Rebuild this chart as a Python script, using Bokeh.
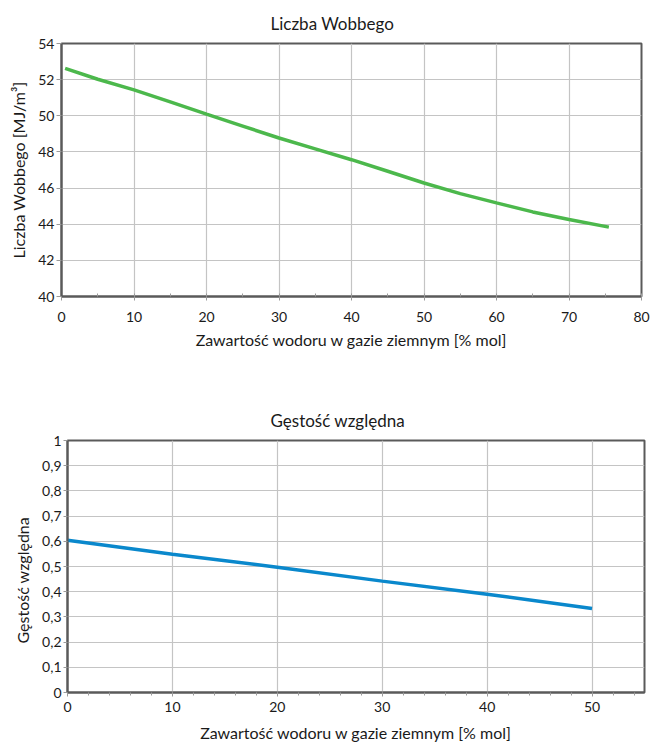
from bokeh.plotting import figure
from bokeh.models import FixedTicker, Range1d, Title
from bokeh.embed import file_html
from bokeh.resources import INLINE

FONT = "Lato"

# ---- data: Wobbe index vs hydrogen content ----
wobbe_h2 = [0.5, 5, 10, 15, 20, 25, 30, 35, 40, 45, 50, 55, 60, 65, 70, 75.5]
wobbe_val = [52.62, 52.02, 51.43, 50.77, 50.09, 49.43, 48.77, 48.17, 47.57,
             46.93, 46.28, 45.69, 45.18, 44.68, 44.26, 43.84]
wobbe_xticks = [0, 10, 20, 30, 40, 50, 60, 70, 80]
wobbe_yticks = [40, 42, 44, 46, 48, 50, 52, 54]

# ---- data: relative density vs hydrogen content ----
dens_h2 = [0, 10, 20, 30, 40, 50]
dens_val = [0.604, 0.549, 0.497, 0.442, 0.390, 0.333]
dens_xticks = [0, 10, 20, 30, 40, 50]
dens_yticks = [0, 0.1, 0.2, 0.3, 0.4, 0.5, 0.6, 0.7, 0.8, 0.9, 1]
dens_ylabels = ["0", "0,1", "0,2", "0,3", "0,4", "0,5", "0,6", "0,7", "0,8", "0,9", "1"]

title1 = "Liczba Wobbego"
ylabel1 = "Liczba Wobbego [MJ/m³]"
title2 = "Gęstość względna"
ylabel2 = "Gęstość względna"
xlabel = "Zawartość wodoru w gazie ziemnym [% mol]"

AXIS = "#5a5a5a"
GRID = "#c4c4c4"
TXT = "#1a1a1a"


def style(p):
    p.outline_line_color = AXIS
    p.outline_line_width = 2
    p.background_fill_color = "white"
    p.border_fill_color = "white"
    for g in (p.xgrid, p.ygrid):
        g.grid_line_color = GRID
        g.grid_line_width = 1.2
    for ax in (p.xaxis, p.yaxis):
        ax.axis_line_color = AXIS
        ax.axis_line_width = 2
        ax.major_tick_line_color = "#9a9a9a"
        ax.minor_tick_line_color = "#9a9a9a"
        ax.major_label_text_font = FONT
        ax.major_label_text_font_size = "14px"
        ax.major_label_text_color = TXT
        ax.axis_label_text_font = FONT
        ax.axis_label_text_font_size = "16px"
        ax.axis_label_text_font_style = "normal"
        ax.axis_label_text_color = TXT


def set_title(p, text, offset, standoff):
    p.title.text = text
    p.title.align = "left"
    p.title.offset = offset
    p.title.standoff = standoff
    p.title.text_font = FONT
    p.title.text_font_size = "17px"
    p.title.text_font_style = "normal"
    p.title.text_color = TXT


# ---------------- top chart ----------------
p1 = figure(width=650, height=398,
            x_range=Range1d(0, 80), y_range=Range1d(40, 54),
            output_backend="svg", toolbar_location=None,
            min_border_left=61, min_border_right=9,
            min_border_top=42, min_border_bottom=102)
style(p1)
set_title(p1, title1, 209, 20)
p1.xaxis.ticker = FixedTicker(ticks=wobbe_xticks,
                              minor_ticks=list(range(0, 81, 5)))
p1.yaxis.ticker = FixedTicker(ticks=wobbe_yticks)
p1.yaxis.minor_tick_line_color = None
p1.xaxis.major_tick_in = 0
p1.xaxis.major_tick_out = 4
p1.xaxis.minor_tick_in = 3
p1.xaxis.minor_tick_out = 0
p1.xaxis.major_label_standoff = 11
p1.xaxis.axis_label = xlabel
p1.xaxis.axis_label_standoff = 5
p1.yaxis.major_tick_in = 0
p1.yaxis.major_tick_out = 5
p1.yaxis.major_label_standoff = 2
p1.yaxis.axis_label = ylabel1
p1.yaxis.axis_label_standoff = 7
p1.line(wobbe_h2, wobbe_val, line_color="#4cb84c", line_width=3.5)

# ---------------- bottom chart ----------------
p2 = figure(width=650, height=348,
            x_range=Range1d(0, 55), y_range=Range1d(0, 1),
            output_backend="svg", toolbar_location=None,
            min_border_left=67, min_border_right=6,
            min_border_top=39, min_border_bottom=54)
style(p2)
set_title(p2, title2, 203, 19)
p2.xaxis.ticker = FixedTicker(ticks=dens_xticks,
                              minor_ticks=list(range(0, 56, 2)))
p2.yaxis.ticker = FixedTicker(ticks=dens_yticks)
p2.yaxis.major_label_overrides = dict(zip(dens_yticks, dens_ylabels))
p2.yaxis.minor_tick_line_color = None
p2.xaxis.major_tick_in = 0
p2.xaxis.major_tick_out = 4
p2.xaxis.minor_tick_in = 0
p2.xaxis.minor_tick_out = 3
p2.xaxis.major_label_standoff = 5
p2.xaxis.axis_label = xlabel
p2.xaxis.axis_label_standoff = 8
p2.yaxis.major_tick_in = 0
p2.yaxis.major_tick_out = 4
p2.yaxis.major_label_standoff = 2
p2.yaxis.axis_label = None
p2.add_layout(Title(text=ylabel2, align="left", offset=49, standoff=16,
                    text_font=FONT, text_font_size="16px",
                    text_font_style="normal", text_color=TXT), "left")
p2.line(dens_h2, dens_val, line_color="#0a88cc", line_width=3.5)

open("out.html", "w").write(file_html([p1, p2], INLINE))
